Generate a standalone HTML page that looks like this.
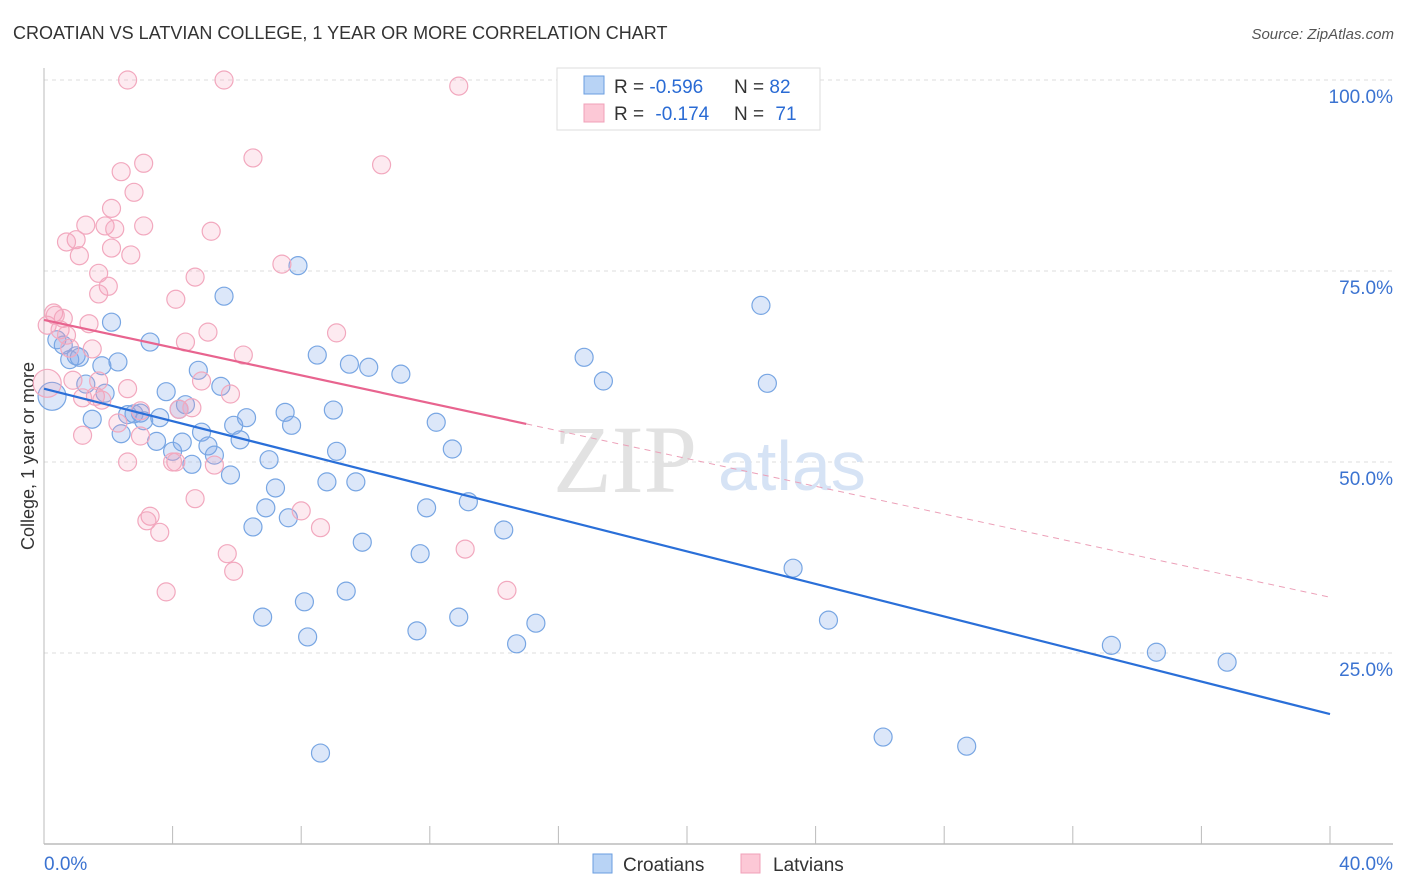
<!DOCTYPE html>
<html><head><meta charset="utf-8"><style>
body{margin:0;background:#fff;font-family:"Liberation Sans",sans-serif}
svg{display:block}
</style></head><body>
<svg id="c" width="1406" height="892">
<text x="13" y="39" font-size="18" fill="#333">CROATIAN VS LATVIAN COLLEGE, 1 YEAR OR MORE CORRELATION CHART</text>
<text x="1394" y="39" font-size="15" fill="#555" font-style="italic" text-anchor="end">Source: ZipAtlas.com</text>
<text x="34" y="456" font-size="18" fill="#333" text-anchor="middle" transform="rotate(-90 34 456)">College, 1 year or more</text>
<g id="grid"></g>
<text x="553" y="492" font-size="96" fill="#e2e2e2" font-family="Liberation Serif,serif">ZIP</text>
<text x="718" y="490" font-size="70" fill="#d6e3f5">atlas</text>
<g id="pts"></g>
<g id="lines"></g>
<g>
<rect x="557" y="68" width="263" height="62" fill="#fff" stroke="#ddd"/>
<rect x="584" y="76" width="20" height="18" fill="#b8d3f5" stroke="#6a9ee0"/>
<rect x="584" y="104" width="20" height="18" fill="#fcc8d6" stroke="#f0a0b8"/>
<text x="614" y="93" font-size="19" fill="#333">R = <tspan fill="#2a6bd4">-0.596</tspan><tspan x="734">N = </tspan><tspan fill="#2a6bd4">82</tspan></text>
<text x="614" y="120" font-size="19" fill="#333">R = <tspan fill="#2a6bd4" dx="6">-0.174</tspan><tspan x="734">N = </tspan><tspan fill="#2a6bd4" dx="6">71</tspan></text>
</g>
<g>
<rect x="593" y="854" width="19" height="19" fill="#b8d3f5" stroke="#6a9ee0"/>
<text x="623" y="871" font-size="19" fill="#333">Croatians</text>
<rect x="741" y="854" width="19" height="19" fill="#fcc8d6" stroke="#f0a0b8"/>
<text x="773" y="871" font-size="19" fill="#333">Latvians</text>
</g>
</svg>
<script>
const xTicks=[0,40];
const yTicks=[25,50,75,100];
const blueX=[0.25,0.4,0.6,0.8,1.0,1.1,1.3,1.5,1.8,1.9,2.1,2.3,2.4,2.6,2.8,3.0,3.1,3.3,3.5,3.6,3.8,4.0,4.2,4.3,4.4,4.6,4.8,4.9,5.1,5.3,5.5,5.6,5.8,5.9,6.1,6.3,6.5,6.8,6.9,7.0,7.2,7.5,7.6,7.7,7.9,8.1,8.2,8.5,8.6,8.8,9.0,9.1,9.4,9.5,9.7,9.9,10.1,11.1,11.7,11.6,11.9,12.2,12.7,12.9,13.2,14.3,14.7,15.3,16.8,17.4,22.3,22.5,23.3,24.4,26.1,28.7,33.2,34.6,36.8];
const blueY=[58.6,66.0,65.3,63.4,63.9,63.7,60.2,55.6,62.6,59.0,68.3,63.1,53.7,56.2,56.3,56.4,55.4,65.7,52.7,55.8,59.2,51.4,56.9,52.6,57.5,49.7,62.0,53.9,52.1,50.9,59.9,71.7,48.3,54.8,52.9,55.8,41.5,29.7,44.0,50.3,46.6,56.5,42.7,54.8,75.7,31.7,27.1,64.0,11.9,47.4,56.8,51.4,33.1,62.8,47.4,39.5,62.4,61.5,38.0,27.9,44.0,55.2,51.7,29.7,44.8,41.1,26.2,28.9,63.7,60.6,70.5,60.3,36.1,29.3,14.0,12.8,26.0,25.1,23.8];
const pinkX=[2.6,5.6,12.9,3.1,6.5,10.5,2.4,2.8,2.1,5.2,1.3,1.9,2.2,3.1,1.0,0.7,2.1,1.1,2.7,7.4,4.7,1.7,2.0,1.7,4.1,0.3,0.6,0.1,1.4,5.1,9.1,4.4,0.8,1.5,6.2,1.7,0.9,2.6,4.9,5.8,1.6,1.8,1.2,0.1,3.0,4.2,4.6,2.3,3.0,1.2,2.6,4.1,4.0,5.3,4.7,3.3,3.2,3.6,8.0,8.6,13.1,5.7,5.9,3.8,14.4,0.5,0.7,0.35];
const pinkY=[100,100,99.2,89.1,89.8,88.9,88.0,85.3,83.2,80.2,81.0,80.9,80.5,80.9,79.1,78.8,78.0,77.0,77.1,75.9,74.2,74.7,73.0,72.0,71.3,69.5,68.8,67.9,68.1,67.0,66.9,65.7,64.9,64.8,64.0,60.6,60.7,59.6,60.6,58.9,58.6,58.1,58.4,60.3,56.7,56.9,57.1,55.1,53.4,53.5,50.0,50.0,50.0,49.6,45.2,42.9,42.3,40.8,43.6,41.4,38.6,38.0,35.7,33.0,33.2,67.3,66.6,69.2];
const blueBig=[0], pinkBig=[43];
const blueFit=[59.6,17.0];
const pinkFit=[68.6,32.3];
const pinkSolidEnd=15.0;

const NS="http://www.w3.org/2000/svg";
const X=v=>44+v/40*1286;
const Y=v=>844-v/100*764;
function mk(t,a,p){const e=document.createElementNS(NS,t);for(const k in a)e.setAttribute(k,a[k]);p.appendChild(e);return e;}
const grid=document.getElementById('grid');
yTicks.forEach(t=>{
  const l=mk('line',{x1:44,x2:1393,y1:Y(t),y2:Y(t),stroke:'#ddd','stroke-dasharray':'4,4'},grid);
  
  
  const tx=mk('text',{x:1393,y:Y(t)+23,'font-size':19,fill:'#3b73d1','text-anchor':'end'},grid);
  tx.textContent=t.toFixed(1)+'%';
  
  
});
const ya=mk('line',{x1:44,x2:44,y1:68,y2:844,stroke:'#bbb'},grid);


const xa=mk('line',{x1:44,x2:1393,y1:844,y2:844,stroke:'#bbb','stroke-width':1.5},grid);


for(let k=1;k<=10;k++){const tk=mk('line',{x1:X(k*4),x2:X(k*4),y1:826,y2:844,stroke:'#bbb'},grid);
  
  }
xTicks.forEach((t,i)=>{const tx=mk('text',{x:i?1393:X(t),y:870,'font-size':19,fill:'#3b73d1','text-anchor':i?'end':'start'},grid);
  tx.textContent=t.toFixed(1)+'%';
  
  });
const pts=document.getElementById('pts');
blueX.forEach((v,i)=>{const c=mk('circle',{cx:X(v),cy:Y(blueY[i]),r:blueBig.includes(i)?14:9,fill:'rgba(130,170,235,0.28)',stroke:'#78a6e3','stroke-width':1.2},pts);
  
  });
pinkX.forEach((v,i)=>{const c=mk('circle',{cx:X(v),cy:Y(pinkY[i]),r:pinkBig.includes(i)?14:9,fill:'rgba(245,160,185,0.22)',stroke:'#f2a8be','stroke-width':1.2},pts);
  
  });
const lines=document.getElementById('lines');
const pf=x=>pinkFit[0]+(pinkFit[1]-pinkFit[0])*x/40;
const bl=mk('line',{x1:X(0),y1:Y(blueFit[0]),x2:X(40),y2:Y(blueFit[1]),stroke:'#2a6fd8','stroke-width':2.2},lines);


const pl=mk('line',{x1:X(0),y1:Y(pf(0)),x2:X(pinkSolidEnd),y2:Y(pf(pinkSolidEnd)),stroke:'#e8648f','stroke-width':2.2},lines);


const pd=mk('line',{x1:X(pinkSolidEnd),y1:Y(pf(pinkSolidEnd)),x2:X(40),y2:Y(pf(40)),stroke:'#eca0b8','stroke-width':1,'stroke-dasharray':'6,5'},lines);


</script>
</body></html>
